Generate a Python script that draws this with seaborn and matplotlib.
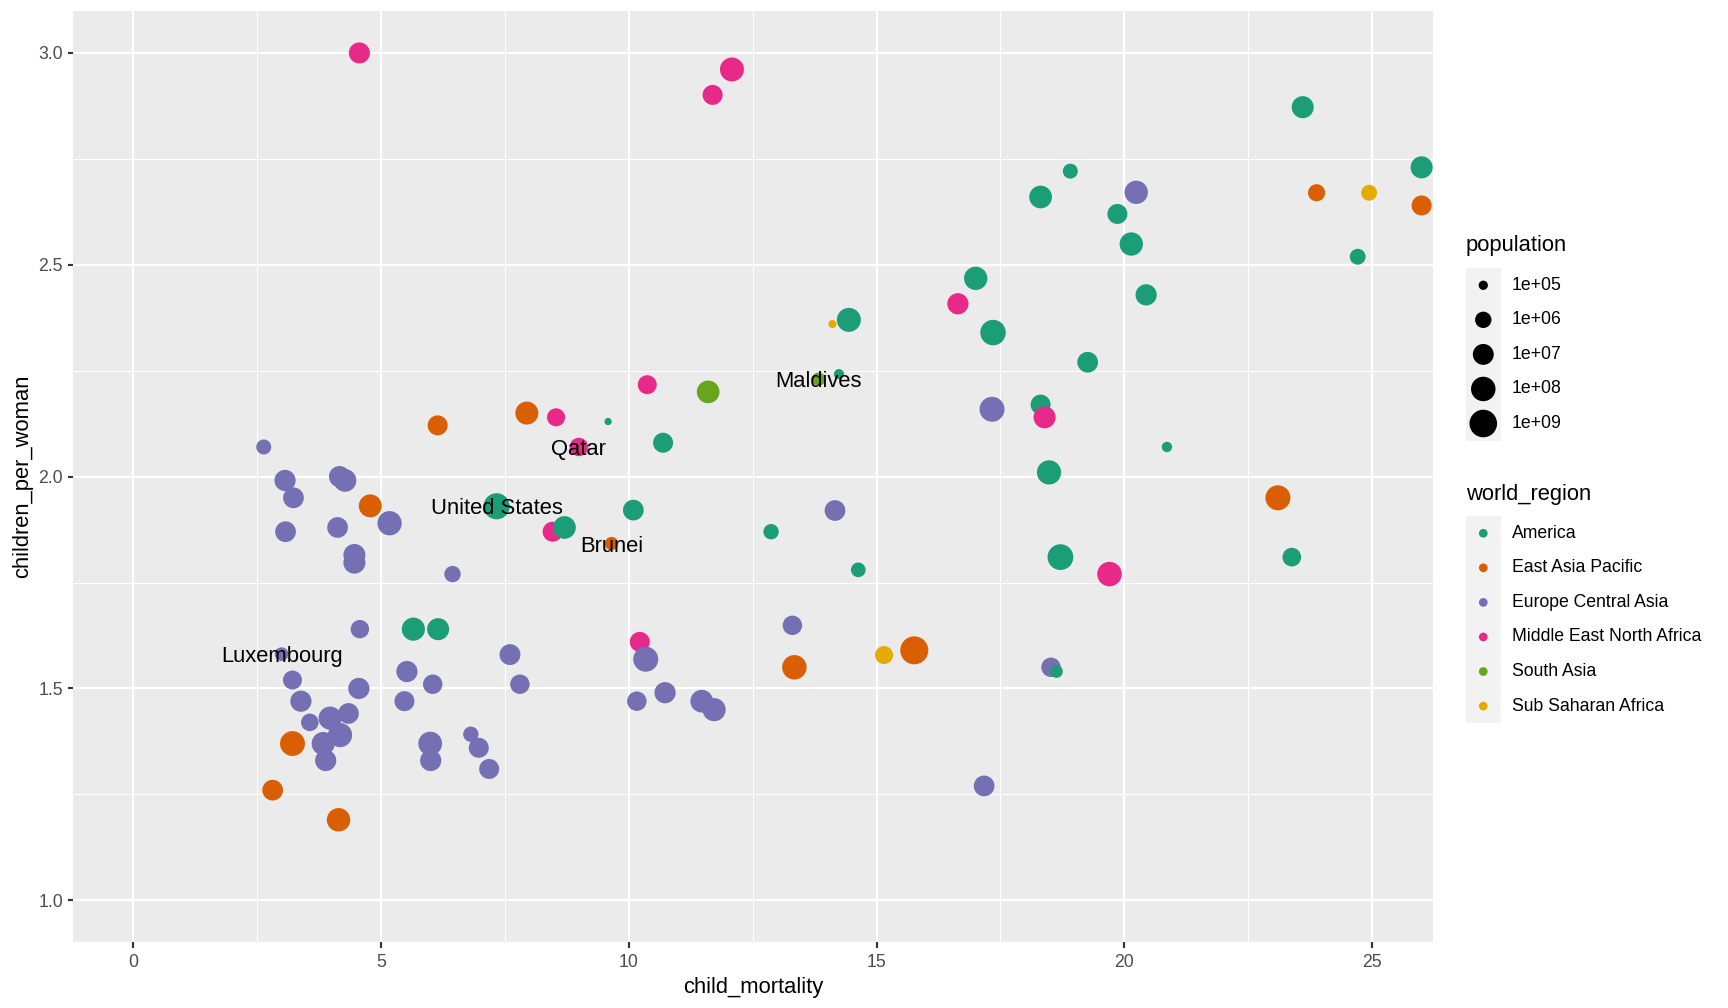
import numpy as np
import pandas as pd
import matplotlib
matplotlib.use("Agg")
import matplotlib.pyplot as plt
import matplotlib.colors as mcolors
import matplotlib.ticker as mtick
from matplotlib.patches import Rectangle
import seaborn as sns

plt.rcParams['font.family'] = ['Liberation Sans', 'DejaVu Sans']

regions = ["America", "East Asia Pacific", "Europe Central Asia",
           "Middle East North Africa", "South Asia", "Sub Saharan Africa"]
region_colors = ["#1B9E77", "#D95F02", "#7570B3", "#E7298A", "#66A61E", "#E6AB02"]
region_codes = dict(zip("AEUMSF", regions))

# the first five rows are the labelled countries
label_names = ["United States", "Qatar", "Maldives", "Brunei", "Luxembourg"]

region_code = ("AMSEUMMMAA" "AUAAAEFEAA" "MAAAFAAUAM" "AAEAAMSMAM" "EEUAUUUUEU"
               "UUUUUMAAAU" "AUAAUUUUUU" "UUUUUUUUEE" "EUUUUUMUUU" "UUUEFEUAU")

child_mortality = [
    7.33, 8.99, 13.83, 9.65, 2.99, 4.56, 12.08, 11.69, 23.60, 18.91,
    18.31, 20.24, 19.86, 20.14, 26.0, 23.88, 24.94, 26.0, 24.71, 17.00,
    16.64, 17.35, 20.44, 14.44, 14.11, 14.24, 19.26, 17.33, 18.31, 18.39,
    20.86, 18.48, 23.10, 23.38, 18.71, 19.70, 11.60, 10.37, 9.58, 8.53,
    7.94, 6.14, 2.63, 10.69, 3.06, 4.16, 4.27, 3.23, 4.78, 5.17,
    3.07, 4.12, 4.46, 4.46, 6.44, 8.46, 8.70, 10.09, 12.87, 14.16,
    14.63, 4.57, 5.65, 6.15, 7.60, 5.52, 6.04, 7.80, 3.21, 4.55,
    3.38, 5.47, 4.34, 3.56, 3.97, 4.17, 3.83, 3.88, 3.21, 2.81,
    4.14, 5.99, 6.00, 6.81, 6.97, 7.18, 10.22, 10.34, 10.16, 10.73,
    11.47, 11.72, 13.30, 13.34, 15.15, 15.76, 18.52, 18.63, 17.17]

children_per_woman = [
    1.930, 2.070, 2.230, 1.842, 1.581, 3.000, 2.961, 2.901, 2.872, 2.721,
    2.660, 2.671, 2.620, 2.549, 2.730, 2.670, 2.670, 2.640, 2.519, 2.468,
    2.408, 2.340, 2.429, 2.370, 2.360, 2.242, 2.270, 2.159, 2.170, 2.140,
    2.070, 2.010, 1.950, 1.810, 1.810, 1.770, 2.200, 2.217, 2.130, 2.140,
    2.150, 2.121, 2.070, 2.080, 1.991, 2.000, 1.991, 1.950, 1.931, 1.890,
    1.870, 1.880, 1.815, 1.797, 1.770, 1.870, 1.880, 1.921, 1.870, 1.920,
    1.780, 1.640, 1.640, 1.640, 1.580, 1.540, 1.510, 1.510, 1.520, 1.500,
    1.470, 1.470, 1.441, 1.420, 1.430, 1.390, 1.370, 1.330, 1.370, 1.260,
    1.190, 1.370, 1.330, 1.392, 1.360, 1.310, 1.610, 1.569, 1.470, 1.490,
    1.470, 1.450, 1.649, 1.550, 1.579, 1.590, 1.550, 1.540, 1.270]

population = [
    3.3e8, 2.7e6, 3.0e5, 3.0e5, 3.5e5, 1.1e7, 7e7, 6e6, 2e7, 5.6e5,
    3e7, 4.5e7, 6e6, 4.5e7, 2e7, 1.4e6, 8e5, 6e6, 8e5, 4.5e7,
    1.2e7, 2e8, 1.2e7, 7e7, 8e4, 1.2e5, 9e6, 1.4e8, 6e6, 2e7,
    1.3e5, 8e7, 1.4e8, 3e6, 2.5e8, 1e8, 3e7, 3.5e6, 7e4, 2.2e6,
    3.6e7, 6e6, 5.6e5, 6e6, 1.2e7, 1.2e7, 3e7, 9e6, 3.5e7, 8.5e7,
    9e6, 9e6, 2e7, 2e7, 1e6, 6e6, 3e7, 9e6, 6.5e5, 9e6,
    5e5, 2.6e6, 4e7, 2e7, 1e7, 1.2e7, 4.5e6, 4.5e6, 3.5e6, 1.2e7,
    1.2e7, 6e6, 9e6, 1.7e6, 4e7, 8e7, 4e7, 1.2e7, 1.3e8, 9e6,
    5e7, 6e7, 1.2e7, 6.5e5, 6e6, 6e6, 6e6, 1.4e8, 4.5e6, 1.2e7,
    3e7, 4e7, 4.5e6, 1e8, 2.2e6, 1.4e9, 4.5e6, 2.5e5, 9e6]

size_breaks = [1e5, 1e6, 1e7, 1e8, 1e9]
size_labels = ["1e+05", "1e+06", "1e+07", "1e+08", "1e+09"]

df = pd.DataFrame({
    "child_mortality": child_mortality,
    "children_per_woman": children_per_woman,
    "population": population,
    "world_region": [region_codes[c] for c in region_code],
})
df["country"] = label_names + [""] * (len(df) - len(label_names))


# ggplot-like size scale: diameter grows with sqrt of log10(population)
def pop_area(p):
    d = 1.35 + 6.0 * np.sqrt(np.maximum(np.log10(p) - 4.7, 0))
    return d ** 2


def area_pop(a):
    return 10 ** (((np.sqrt(a) - 1.35) / 6.0) ** 2 + 4.7)


vmin, vmax = 10 ** 4.7, 10 ** 9.5
size_norm = mcolors.FuncNorm((pop_area, area_pop), vmin=vmin, vmax=vmax)
size_range = (float(pop_area(vmin)), float(pop_area(vmax)))

fig = plt.figure(figsize=(12, 7), dpi=144)
W, H = 1728, 1008
ax = fig.add_axes([73 / W, 1 - 942 / H, (1433 - 73) / W, (942 - 11) / H])
ax.set_facecolor("#EBEBEB")

sns.scatterplot(data=df, x="child_mortality", y="children_per_woman",
                hue="world_region", hue_order=regions,
                palette=dict(zip(regions, region_colors)),
                size="population", sizes=size_range, size_norm=size_norm,
                linewidth=0, edgecolor="none", alpha=1, legend=False,
                ax=ax, zorder=3)

for _, row in df[df["country"] != ""].iterrows():
    ax.text(row["child_mortality"], row["children_per_woman"], row["country"],
            ha="center", va="center_baseline", fontsize=11, zorder=4)

ax.set_xlim(-1.22, 26.23)
ax.set_ylim(0.9016, 3.099)
ax.xaxis.set_major_locator(mtick.MultipleLocator(5))
ax.xaxis.set_minor_locator(mtick.MultipleLocator(2.5))
ax.yaxis.set_major_locator(mtick.MultipleLocator(0.5))
ax.yaxis.set_minor_locator(mtick.MultipleLocator(0.25))
ax.yaxis.set_major_formatter(mtick.FormatStrFormatter("%.1f"))
ax.grid(which="major", color="white", linewidth=1.07, zorder=1)
ax.grid(which="minor", color="white", linewidth=0.53, zorder=1)
ax.set_axisbelow(True)
for s in ax.spines.values():
    s.set_visible(False)
ax.tick_params(which="major", length=2.75, width=1.07, color="#333333",
               labelcolor="#4D4D4D", labelsize=8.8, pad=2.2)
ax.tick_params(axis="x", which="major", pad=3.4)
ax.tick_params(which="minor", length=0)
ax.set_xlabel("child_mortality", fontsize=11, labelpad=2.8)
ax.set_ylabel("children_per_woman", fontsize=11, labelpad=2.75)

# legends drawn in a pixel-space overlay
lax = fig.add_axes([0, 0, 1, 1])
lax.set_xlim(0, W)
lax.set_ylim(H, 0)
lax.axis("off")
key = 34.56
kx = 1466

lax.text(kx, 251, "population", fontsize=11, va="baseline")
top = 268
lax.add_patch(Rectangle((kx, top), key, key * len(size_breaks),
                        color="#F2F2F2", lw=0))
key_areas = [size_range[0] + float(size_norm(b)) * (size_range[1] - size_range[0])
             for b in size_breaks]
ys = [top + key * (i + 0.5) for i in range(len(size_breaks))]
lax.scatter([kx + key / 2] * len(ys), ys, s=key_areas, color="black", lw=0)
for y, lab in zip(ys, size_labels):
    lax.text(1512, y, lab, fontsize=8.8, va="center")

lax.text(kx, 500, "world_region", fontsize=11, va="baseline")
top = 516
lax.add_patch(Rectangle((kx, top), key, key * len(regions),
                        color="#F2F2F2", lw=0))
ys = [top + key * (i + 0.5) for i in range(len(regions))]
lax.scatter([kx + key / 2] * len(ys), ys, s=19, c=region_colors, lw=0)
for y, lab in zip(ys, regions):
    lax.text(1512, y, lab, fontsize=8.8, va="center")

fig.savefig("out.png", dpi=144)
